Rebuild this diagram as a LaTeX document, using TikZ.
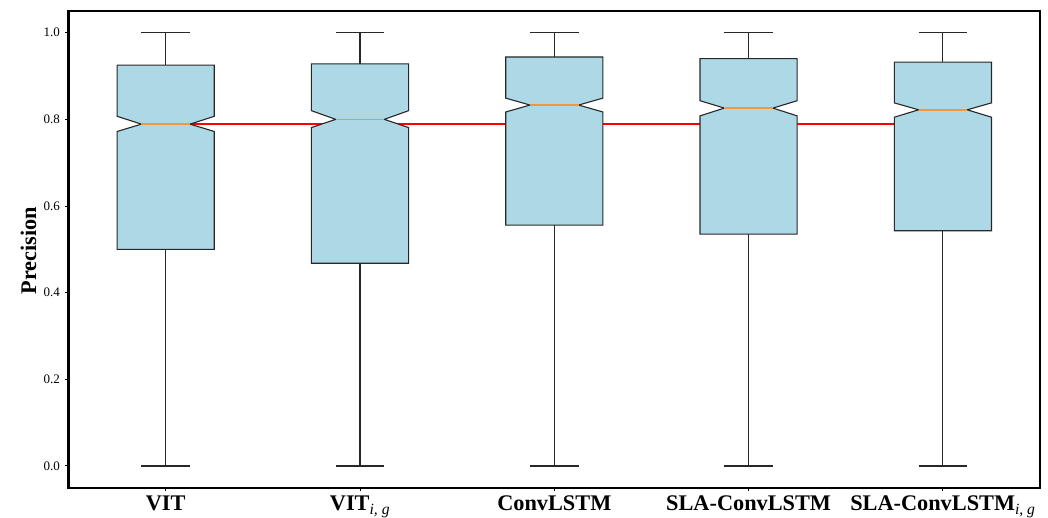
\documentclass[tikz,border=0pt]{standalone}
\usepackage{fontspec}
\setmainfont{Liberation Serif}
\definecolor{boxfill}{RGB}{173,216,230}
\definecolor{boxedge}{RGB}{40,40,40}
\definecolor{medorange}{RGB}{245,150,60}
\definecolor{levelred}{RGB}{255,0,0}
\tikzset{
  boxbody/.style={fill=boxfill, draw=boxedge, line width=1.1pt, line join=miter},
  whisk/.style={draw=boxedge, line width=1.1pt},
  medband/.style={fill=medorange, draw=none},
  levelband/.style={fill=levelred, draw=none},
  frame/.style={draw=black, line width=2.2pt},
  tickmark/.style={draw=black, line width=1pt},
  ticklab/.style={font=\fontsize{13}{15}\selectfont, inner sep=0pt},
  catlab/.style={font=\fontsize{22.3}{25}\selectfont\bfseries, inner sep=0pt, anchor=base},
}
% notched box: #1 position, #2 q1, #3 q3, #4 median, #5 notch low, #6 notch high
\newcommand\notchbox[6]{%
  \draw[boxbody] (#1-0.25,#2) -- (#1+0.25,#2) -- (#1+0.25,#5) -- (#1+0.125,#4)
    -- (#1+0.25,#6) -- (#1+0.25,#3) -- (#1-0.25,#3) -- (#1-0.25,#6)
    -- (#1-0.125,#4) -- (#1-0.25,#5) -- cycle;
  \draw[whisk] (#1,#2) -- (#1,0) (#1-0.125,0) -- (#1+0.125,0);
  \draw[whisk] (#1,#3) -- (#1,1) (#1-0.125,1) -- (#1+0.125,1);
  \path[medband] ([yshift=-0.8pt]#1-0.125,#4) rectangle ([yshift=0.8pt]#1+0.125,#4);
}
\begin{document}
\begin{tikzpicture}[x=1pt,y=1pt]
\useasboundingbox (0,0) rectangle (1048,518);
\begin{scope}[shift={(-28.6,52)}, x=194.3pt, y=433.3pt]
  % reference level at the first median
  \path[levelband] ([yshift=-1.1pt]1.125,0.79) rectangle ([yshift=1.1pt]5,0.79);
  \notchbox{1}{0.500}{0.925}{0.789}{0.772}{0.807}
  \notchbox{2}{0.468}{0.928}{0.800}{0.781}{0.820}
  \notchbox{3}{0.556}{0.944}{0.833}{0.817}{0.849}
  \notchbox{4}{0.535}{0.940}{0.826}{0.808}{0.843}
  \notchbox{5}{0.543}{0.932}{0.822}{0.805}{0.838}
  % axes frame
  \draw[frame] (0.5,-0.05) rectangle (5.5,1.05);
  % y ticks
  \foreach \v in {0.0,0.2,0.4,0.6,0.8,1.0} {
    \draw[tickmark] (0.5,\v) -- ++(-3.5pt,0);
    \node[ticklab, anchor=east] (yt\v) at ([xshift=-8.5pt]0.5,\v) {\v};
  }
  % x ticks and category labels
  \foreach \p in {1,...,5} \draw[tickmark] (\p,-0.05) -- ++(0,-3.5pt);
  \node[catlab] (c1) at ([yshift=-23.3pt]1,-0.05) {VIT};
  \node[catlab] (c2) at ([yshift=-23.3pt]2,-0.05) {VIT\textsubscript{\mdseries\itshape i, g}};
  \node[catlab] (c3) at ([yshift=-23.3pt]3,-0.05) {ConvLSTM};
  \node[catlab] (c4) at ([yshift=-23.3pt]4,-0.05) {SLA-ConvLSTM};
  \node[catlab] (c5) at ([yshift=-23.3pt]5,-0.05) {SLA-ConvLSTM\textsubscript{\mdseries\itshape i, g}};
\end{scope}
\node[rotate=90, anchor=base, inner sep=0pt, font=\fontsize{22.3}{25}\selectfont\bfseries] (ylab) at (36,267.2) {Precision};
\end{tikzpicture}
\end{document}
